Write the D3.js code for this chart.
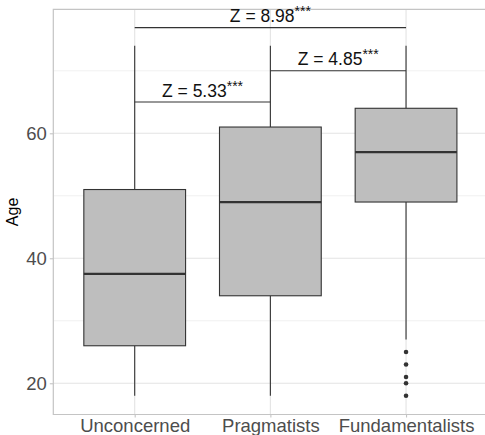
<!DOCTYPE html>
<html>
<head>
<meta charset="utf-8">
<script src="https://cdn.jsdelivr.net/npm/d3@7"></script>
<style>
  body { margin: 0; background: #fff; }
  svg { display: block; font-family: "Liberation Sans", Arial, sans-serif; }
</style>
</head>
<body>
<svg id="chart" width="485" height="435"></svg>
<script>
// groups along the x axis
const groups = ['Unconcerned', 'Pragmatists', 'Fundamentalists'];

// box stats (age)
const lowerWhisker = [18, 18, 27];
const q1 = [26, 34, 49];
const median = [37.5, 49, 57];
const q3 = [51, 61, 64];
const upperWhisker = [74, 74, 74];

// outlying points (Fundamentalists only)
const outlierGroup = ['Fundamentalists', 'Fundamentalists', 'Fundamentalists', 'Fundamentalists', 'Fundamentalists'];
const outlierAge = [25, 23, 21, 20, 18];

// significance brackets
const bracketFrom = ['Unconcerned', 'Pragmatists', 'Unconcerned'];
const bracketTo = ['Pragmatists', 'Fundamentalists', 'Fundamentalists'];
const bracketY = [65, 70, 76.9];
const bracketZ = ['5.33', '4.85', '8.98'];
const bracketStars = ['***', '***', '***'];

const yTicks = [20, 40, 60];
const yMinor = [30, 50, 70];

var svg = d3.select('#chart');

var padLeft = 53.3, padTop = 9.3, padBottom = 414.5;
var unit = 135.67;
var padRight = padLeft + 3.2 * unit;

// ggplot-style discrete axis: positions 1..n with 0.6 expansion
var xi = d3.scaleLinear().domain([0.4, 3.6]).range([padLeft, padRight]);
var x = function (g) { return xi(groups.indexOf(g) + 1); };

var y = d3.scaleLinear().domain([15.0, 79.84]).range([padBottom, padTop]);

var grid = '#e3e3e3';

// minor grid
svg.append('g').selectAll('line').data(yMinor).enter().append('line')
    .attr('x1', padLeft).attr('x2', 485)
    .attr('y1', d => y(d)).attr('y2', d => y(d))
    .attr('stroke', '#ededed').attr('stroke-width', 0.8);

// major grid
svg.append('g').selectAll('line').data(yTicks).enter().append('line')
    .attr('x1', padLeft).attr('x2', 485)
    .attr('y1', d => y(d)).attr('y2', d => y(d))
    .attr('stroke', grid).attr('stroke-width', 1.1);

svg.append('g').selectAll('line').data(groups).enter().append('line')
    .attr('x1', d => x(d)).attr('x2', d => x(d))
    .attr('y1', padTop).attr('y2', padBottom)
    .attr('stroke', grid).attr('stroke-width', 1.1);

// panel border
svg.append('path')
    .attr('d', 'M' + 485 + ',' + padTop + 'H' + padLeft + 'V' + padBottom + 'H' + 485)
    .attr('fill', 'none').attr('stroke', '#c4c4c4').attr('stroke-width', 1.2);

// y axis
var yAxis = svg.append('g')
    .attr('transform', 'translate(' + padLeft + ',0)')
    .call(d3.axisLeft(y).tickValues(yTicks).tickSize(3.5).tickPadding(3));
yAxis.select('.domain').remove();
yAxis.selectAll('line').attr('stroke', '#c4c4c4').attr('stroke-width', 1.1);
yAxis.selectAll('text')
    .attr('fill', '#4d4d4d')
    .style('font-size', '18.5px')
    .attr('dy', '0.36em');

// x axis
var xAxis = svg.append('g')
    .attr('transform', 'translate(0,' + padBottom + ')')
    .call(d3.axisBottom(d3.scalePoint().domain(groups).range([x(groups[0]), x(groups[2])]))
        .tickSize(3).tickPadding(1));
xAxis.select('.domain').remove();
xAxis.selectAll('line').attr('stroke', '#c4c4c4').attr('stroke-width', 1.1);
xAxis.selectAll('text')
    .attr('fill', '#4d4d4d')
    .style('font-size', '18.5px')
    .attr('dy', '0.71em');

// y title
svg.append('text')
    .attr('transform', 'translate(18,' + ((padTop + padBottom) / 2) + ') rotate(-90)')
    .attr('text-anchor', 'middle')
    .style('font-size', '16px')
    .text('Age');

// boxes
var boxW = 0.75 * unit;
var boxes = svg.append('g').selectAll('g').data(groups).enter().append('g');

boxes.append('line')
    .attr('x1', d => x(d)).attr('x2', d => x(d))
    .attr('y1', (d, i) => y(upperWhisker[i])).attr('y2', (d, i) => y(q3[i]))
    .attr('stroke', '#333').attr('stroke-width', 1.1);
boxes.append('line')
    .attr('x1', d => x(d)).attr('x2', d => x(d))
    .attr('y1', (d, i) => y(q1[i])).attr('y2', (d, i) => y(lowerWhisker[i]))
    .attr('stroke', '#333').attr('stroke-width', 1.1);
boxes.append('rect')
    .attr('x', d => x(d) - boxW / 2)
    .attr('width', boxW)
    .attr('y', (d, i) => y(q3[i]))
    .attr('height', (d, i) => y(q1[i]) - y(q3[i]))
    .attr('fill', '#bebebe')
    .attr('stroke', '#333').attr('stroke-width', 1.1);
boxes.append('line')
    .attr('x1', d => x(d) - boxW / 2).attr('x2', d => x(d) + boxW / 2)
    .attr('y1', (d, i) => y(median[i])).attr('y2', (d, i) => y(median[i]))
    .attr('stroke', '#333').attr('stroke-width', 2.2);

// outliers
svg.append('g').selectAll('circle').data(outlierAge).enter().append('circle')
    .attr('cx', (d, i) => x(outlierGroup[i]))
    .attr('cy', d => y(d))
    .attr('r', 2.3)
    .attr('fill', '#333');

// significance brackets
var br = svg.append('g').selectAll('g').data(bracketY).enter().append('g');
br.append('line')
    .attr('x1', (d, i) => x(bracketFrom[i])).attr('x2', (d, i) => x(bracketTo[i]))
    .attr('y1', d => y(d)).attr('y2', d => y(d))
    .attr('stroke', '#333').attr('stroke-width', 1.1);
var lab = br.append('text')
    .attr('x', (d, i) => (x(bracketFrom[i]) + x(bracketTo[i])) / 2)
    .attr('y', d => y(d) - 5.5)
    .attr('text-anchor', 'middle')
    .style('font-size', '17.5px')
    .attr('fill', '#111');
lab.append('tspan').text((d, i) => 'Z = ' + bracketZ[i]);
lab.append('tspan')
    .attr('dy', -6)
    .style('font-size', '14px')
    .text((d, i) => bracketStars[i]);
</script>
</body>
</html>
